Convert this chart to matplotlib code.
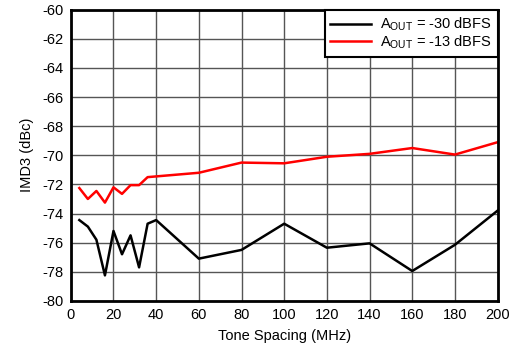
import matplotlib
matplotlib.use("Agg")
import matplotlib.pyplot as plt

plt.rcParams['font.family'] = ['Liberation Sans', 'DejaVu Sans']
plt.rcParams['axes.unicode_minus'] = False

x_low = [4, 8, 12, 16, 20, 24, 28, 32, 36, 40, 60, 80, 100, 120, 140, 160, 180, 200]
imd_m30 = [-74.45, -74.9, -75.8, -78.25, -75.2, -76.8, -75.5, -77.7, -74.7, -74.45,
           -77.1, -76.5, -74.7, -76.35, -76.05, -77.95, -76.15, -73.8]
imd_m13 = [-72.25, -73.0, -72.45, -73.25, -72.2, -72.65, -72.05, -72.05, -71.5, -71.45,
           -71.2, -70.5, -70.55, -70.1, -69.9, -69.5, -69.95, -69.1]

xticks = list(range(0, 201, 20))
yticks = list(range(-80, -59, 2))

fig = plt.figure(figsize=(5.13, 3.49), dpi=100)
ax = fig.add_axes([0.138, 0.138, 0.832, 0.834])

ax.plot(x_low, imd_m30, color='black', lw=1.8, label=r'A$_{\mathregular{OUT}}$ = -30 dBFS')
ax.plot(x_low, imd_m13, color='#ff0000', lw=1.8, label=r'A$_{\mathregular{OUT}}$ = -13 dBFS')

ax.set_xlim(0, 200)
ax.set_ylim(-80, -60)
ax.set_xticks(xticks)
ax.set_yticks(yticks)
ax.tick_params(length=0, labelsize=10.5, pad=5)
ax.grid(True, color='#555555', lw=1)
ax.set_axisbelow(True)
for s in ax.spines.values():
    s.set_linewidth(2)
    s.set_zorder(5)

ax.set_xlabel('Tone Spacing (MHz)', fontsize=10.5, labelpad=5)
ax.set_ylabel('IMD3 (dBc)', fontsize=10.5, labelpad=6)

leg = ax.legend(loc='upper right', fontsize=10.5, frameon=True, fancybox=False,
                edgecolor='black', framealpha=1, borderpad=0.4, handlelength=2.8,
                borderaxespad=0.0, labelspacing=0.0, handletextpad=0.6)
leg.get_frame().set_linewidth(1.5)

fig.savefig('out.png', dpi=100)
